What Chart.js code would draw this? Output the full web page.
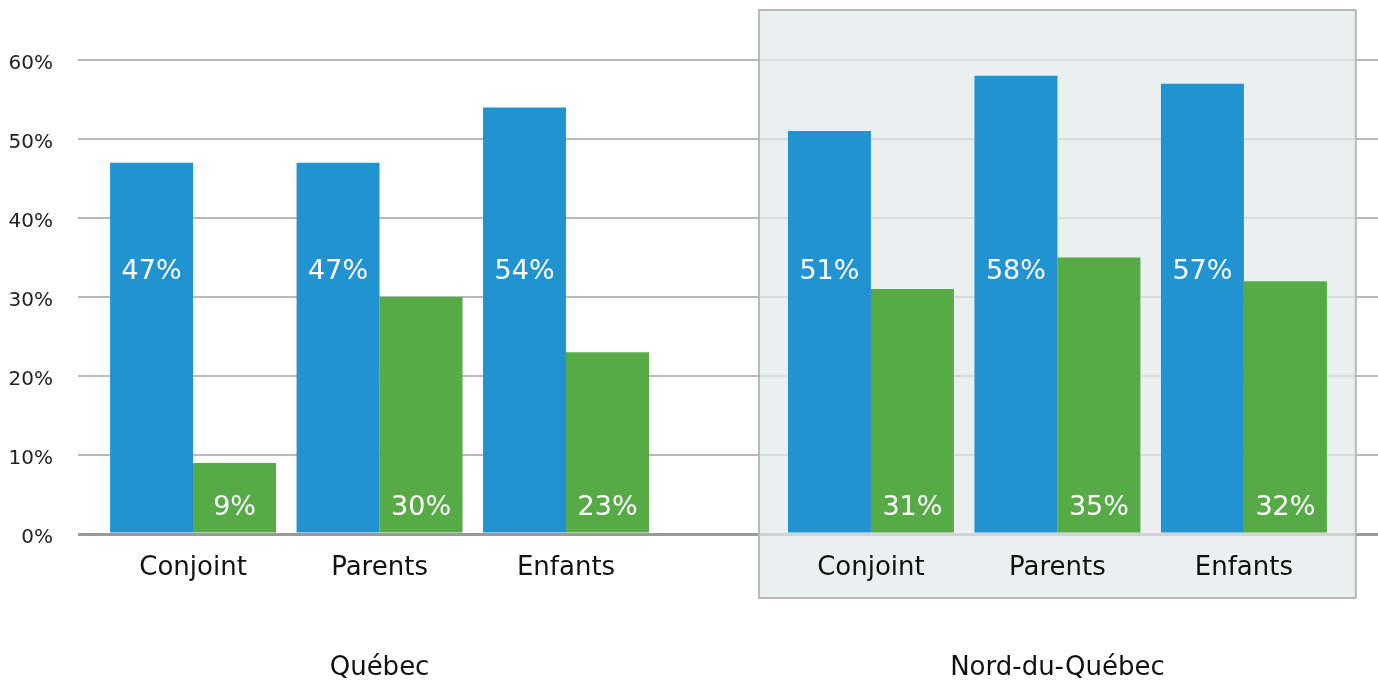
<!DOCTYPE html>
<html>
<head>
<meta charset="utf-8">
<script src="https://cdn.jsdelivr.net/npm/chart.js@4/dist/chart.umd.min.js"></script>
<style>
    html, body { margin: 0; padding: 0; background: #ffffff; }
    #wrap { width: 1378px; height: 682px; position: relative; }
</style>
</head>
<body>
<div id="wrap"><canvas id="chart"></canvas></div>
<script>
// Chart data
const groups = ['Québec', 'Nord-du-Québec'];
const categories = ['Conjoint', 'Parents', 'Enfants'];
const blueValues = [47, 47, 54, 51, 58, 57];
const greenValues = [9, 30, 23, 31, 35, 32];
const yTicks = [0, 10, 20, 30, 40, 50, 60];

const FONT = "'DejaVu Sans', sans-serif";
const groupGap = 0.635;

// x position of every category on the linear axis
const xPos = [];
groups.forEach(function(g, gi) {
    categories.forEach(function(c, ci) {
        xPos.push(gi * (categories.length + groupGap) + ci);
    });
});
const xLabels = [];
groups.forEach(function() { categories.forEach(function(c) { xLabels.push(c); }); });

const toPoints = function(values) {
    return values.map(function(v, i) { return { x: xPos[i], y: v }; });
};

// Grey box behind the second group, drawn over the grid but under the bars
const groupBox = {
    id: 'groupBox',
    beforeDatasetsDraw: function(chart) {
        const ctx = chart.ctx;
        const x = chart.scales.x;
        const area = chart.chartArea;
        const mid = xPos[categories.length + 1];
        const left = x.getPixelForValue(mid - 1.6);
        const right = x.getPixelForValue(mid + 1.6);
        const top = area.top - 50;
        const bottom = area.bottom + 64;
        ctx.save();
        ctx.fillStyle = 'rgba(229, 233, 234, 0.73)';
        ctx.fillRect(left, top, right - left, bottom - top);
        ctx.strokeStyle = '#b7b7b7';
        ctx.lineWidth = 2;
        ctx.strokeRect(left, top, right - left, bottom - top);
        ctx.restore();
    }
};

// Value labels inside bars and group titles under the axis
const labelsPlugin = {
    id: 'labelsPlugin',
    afterDatasetsDraw: function(chart) {
        const ctx = chart.ctx;
        const y = chart.scales.y;
        const x = chart.scales.x;
        ctx.save();
        ctx.textAlign = 'center';
        ctx.textBaseline = 'middle';
        ctx.fillStyle = '#ffffff';
        ctx.font = '27px ' + FONT;
        [[0, blueValues, 33.2], [1, greenValues, 3.3]].forEach(function(d) {
            const meta = chart.getDatasetMeta(d[0]);
            meta.data.forEach(function(bar, i) {
                ctx.fillText(d[1][i] + '%', bar.x, y.getPixelForValue(d[2]));
            });
        });
        ctx.fillStyle = '#111111';
        ctx.font = '26px ' + FONT;
        groups.forEach(function(g, gi) {
            const mid = xPos[gi * categories.length + 1];
            ctx.fillText(g, x.getPixelForValue(mid), chart.chartArea.bottom + 134);
        });
        ctx.restore();
    }
};

new Chart(document.getElementById('chart').getContext('2d'), {
    type: 'bar',
    data: {
        datasets: [{
            label: 'bleu',
            data: toPoints(blueValues),
            backgroundColor: '#2293d1',
            borderWidth: 0
        }, {
            label: 'vert',
            data: toPoints(greenValues),
            backgroundColor: '#56ab47',
            borderWidth: 0
        }]
    },
    options: {
        responsive: true,
        maintainAspectRatio: false,
        animation: false,
        layout: {
            padding: { top: 60, right: 0, bottom: 0, left: 0 }
        },
        datasets: {
            bar: {
                categoryPercentage: 0.89,
                barPercentage: 1.0,
                grouped: true
            }
        },
        plugins: {
            legend: { display: false },
            tooltip: { enabled: false }
        },
        scales: {
            x: {
                type: 'linear',
                min: -0.617,
                max: 6.354,
                offset: false,
                grid: { display: false },
                border: { display: false },
                afterBuildTicks: function(scale) {
                    scale.ticks = xPos.map(function(v) { return { value: v }; });
                },
                afterFit: function(scale) {
                    scale.height = 148;
                },
                ticks: {
                    z: 1,
                    autoSkip: false,
                    maxRotation: 0,
                    padding: 11,
                    color: '#111111',
                    font: { family: FONT, size: 26 },
                    callback: function(value, index) {
                        return xLabels[index];
                    }
                }
            },
            y: {
                min: 0,
                max: 60,
                afterBuildTicks: function(scale) {
                    scale.ticks = yTicks.map(function(v) { return { value: v }; });
                },
                afterFit: function(scale) {
                    scale.width = 78;
                },
                border: { display: false },
                grid: {
                    drawTicks: false,
                    color: function(c) { return c.tick && c.tick.value === 0 ? '#9a9a9a' : '#b9b9b9'; },
                    lineWidth: function(c) { return c.tick && c.tick.value === 0 ? 3 : 2; }
                },
                ticks: {
                    padding: 25,
                    labelOffset: 4,
                    color: '#222222',
                    font: { family: FONT, size: 20 },
                    callback: function(value) { return value + '%'; }
                }
            }
        }
    },
    plugins: [groupBox, labelsPlugin]
});
</script>
</body>
</html>
